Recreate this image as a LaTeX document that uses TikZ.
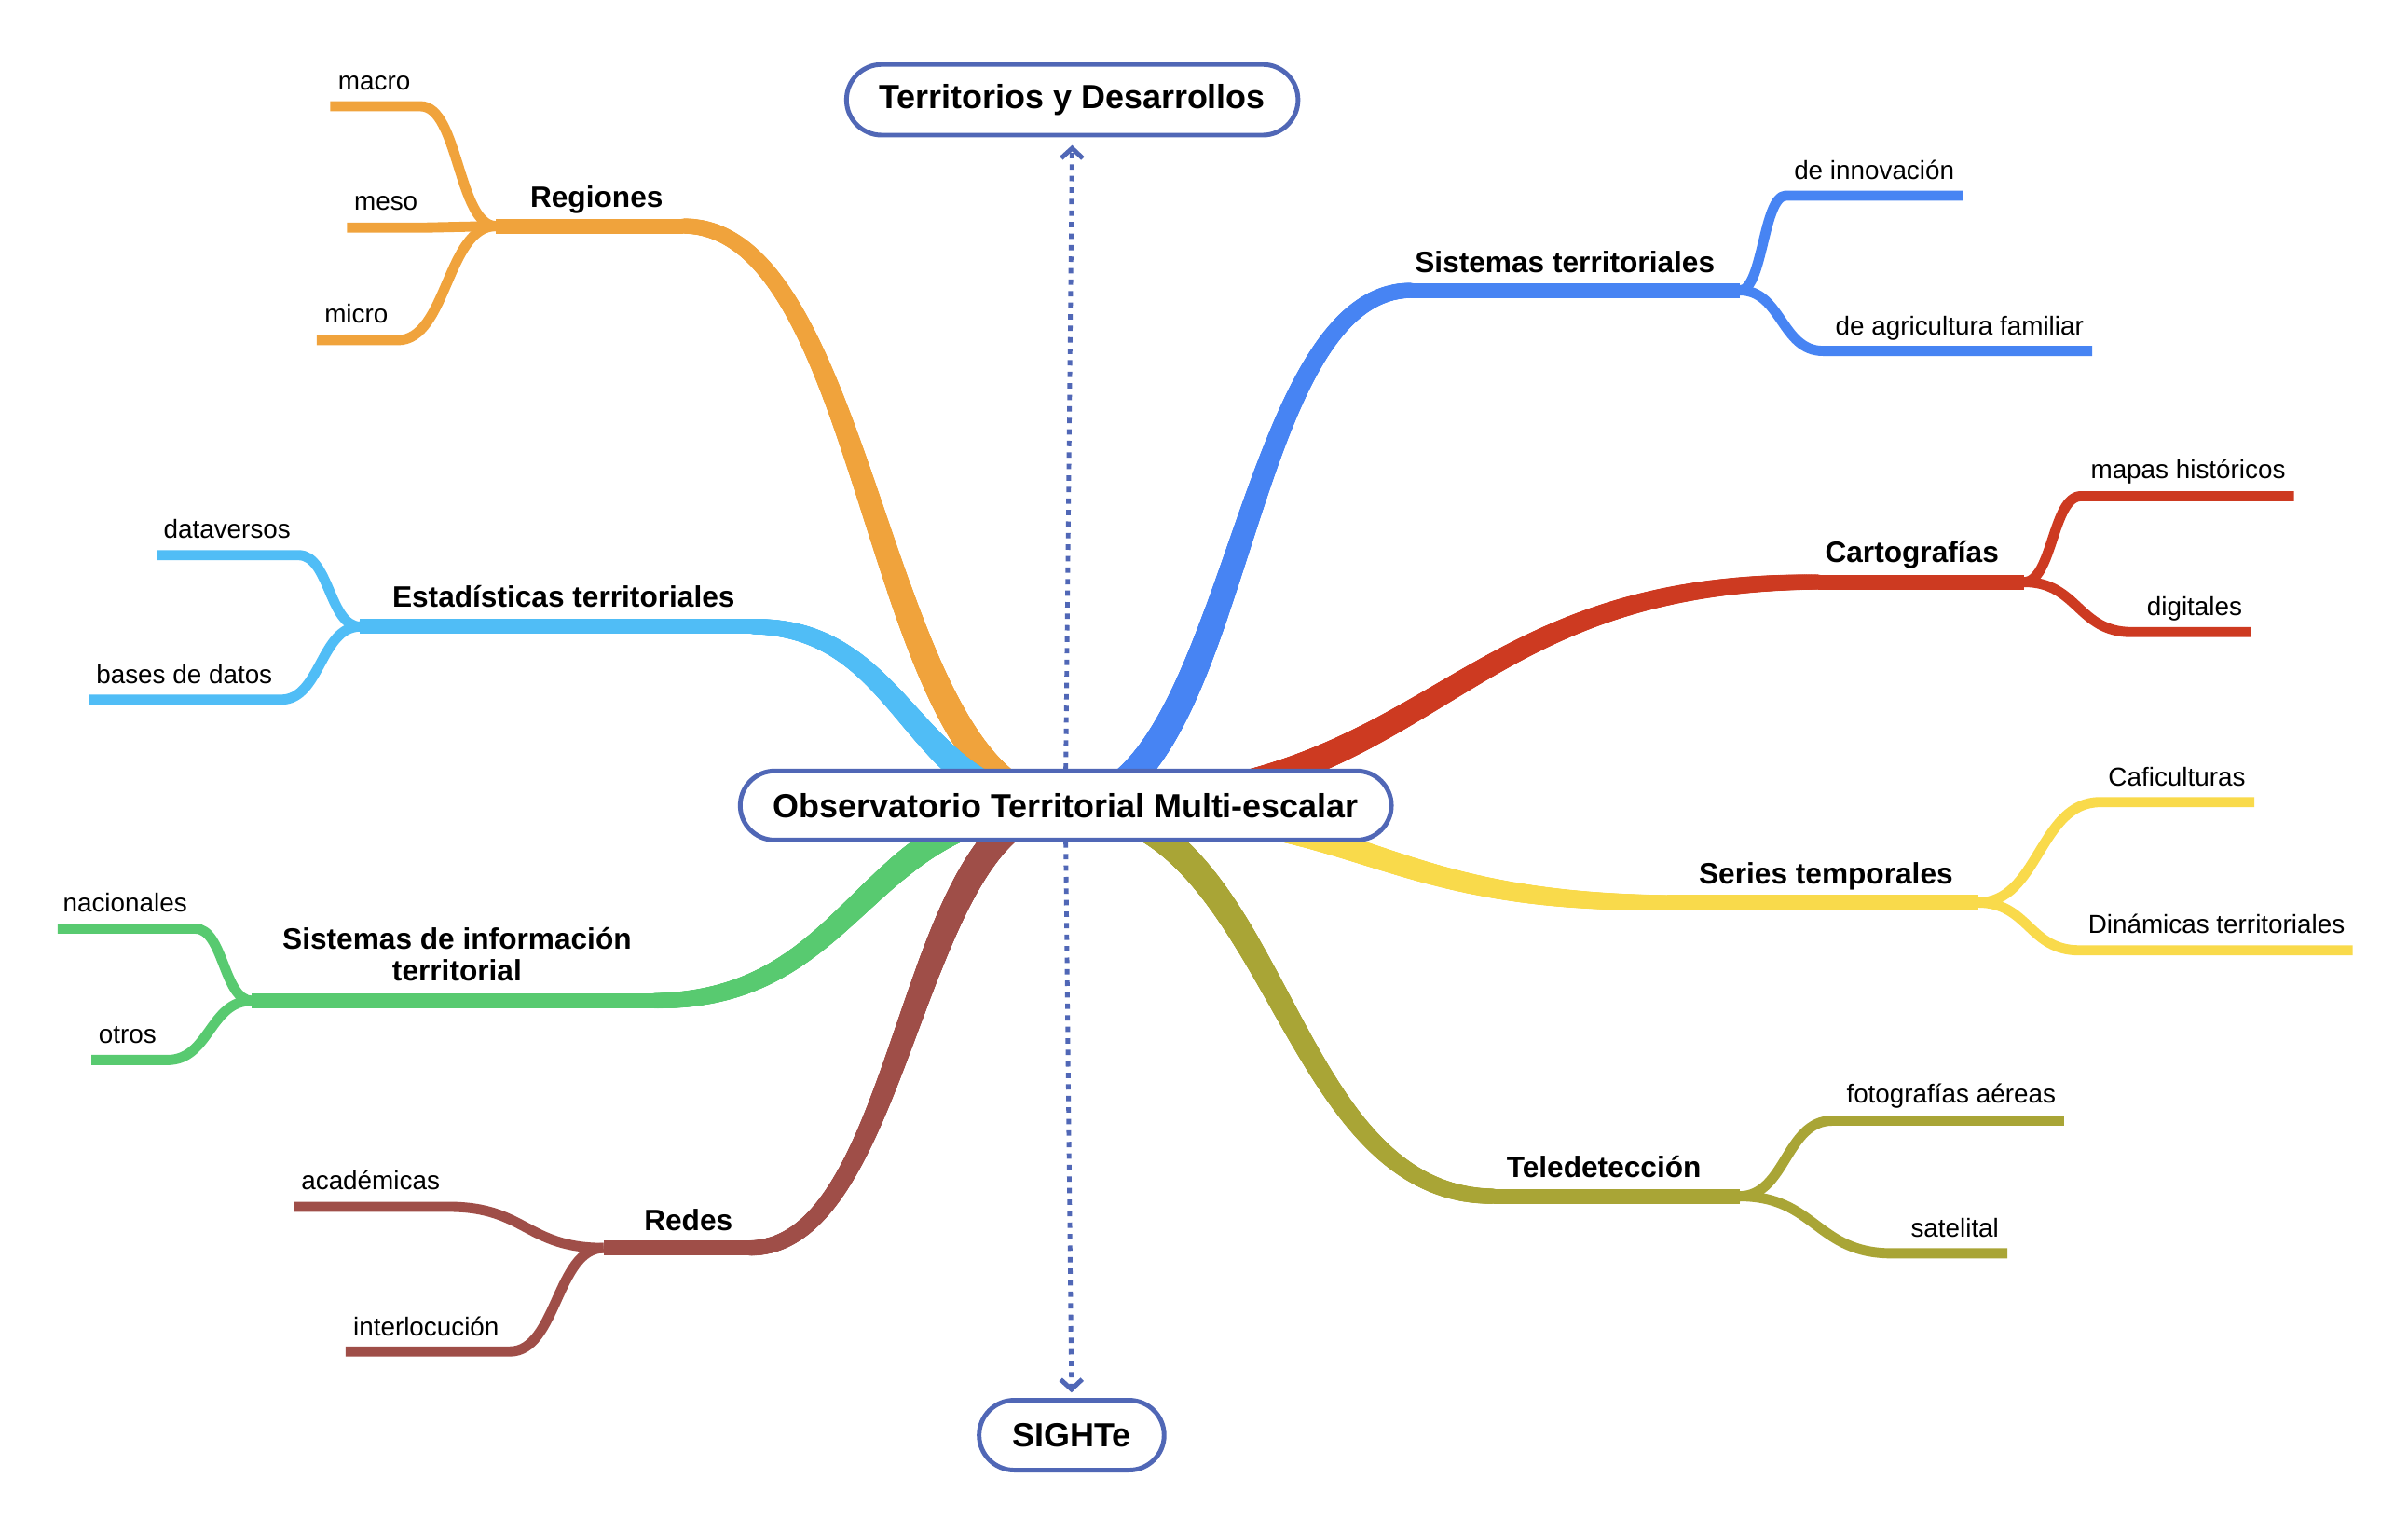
\documentclass[tikz,border=0pt]{standalone}
\usepackage{fontspec}
\setmainfont{Liberation Sans}
\usetikzlibrary{calc,decorations.markings,arrows.meta,shapes.misc,backgrounds}
\definecolor{cOrange}{HTML}{F0A33C}
\definecolor{cLBlue}{HTML}{50BDF6}
\definecolor{cGreen}{HTML}{58CA70}
\definecolor{cBrown}{HTML}{9F4E48}
\definecolor{cBlue}{HTML}{4784F3}
\definecolor{cRed}{HTML}{CD3A21}
\definecolor{cYellow}{HTML}{F9DA4B}
\definecolor{cOlive}{HTML}{A9A536}
\definecolor{cNode}{HTML}{5067B6}
\tikzset{
  hc/.style={to path={.. controls ($(\tikztostart)!0.5!(\tikztostart-|\tikztotarget)$) and ($(\tikztotarget)!0.5!(\tikztotarget-|\tikztostart)$) .. (\tikztotarget)}},
  pill/.style={rounded rectangle, draw=cNode, line width=3pt, fill=white, inner sep=0pt, font=\fontsize{21.8}{26}\selectfont\bfseries},
  mainlbl/.style={anchor=base, inner sep=0pt, font=\fontsize{19.2}{20.8}\selectfont\bfseries},
  sublbl/.style={anchor=base, inner sep=0pt, font=\fontsize{16.9}{20}\selectfont},
  trunk/.style={line width=9.8pt, line cap=butt},
  twig/.style={line width=6.6pt, line cap=butt, line join=round},
  dotarrow/.style={draw=cNode, line width=3pt, dash pattern=on 3.5pt off 4pt, -{Straight Barb[length=6.5pt,width=14pt]}},
  taper/.style n args={3}{decoration={markings, mark=between positions 0 and 1 step 0.002 with {
      \pgfmathsetmacro\tprad{0.5*(#2+(#3-#2)*\pgfkeysvalueof{/pgf/decoration/mark info/distance from start}/\pgfdecoratedpathlength)}
      \fill[#1] (0,0) circle[radius=\tprad pt];}}, decorate}
}
\begin{document}
\begin{tikzpicture}[x=1pt,y=-1pt]
\useasboundingbox (0,0) rectangle (1568,998);

% central and side nodes
\node[pill, minimum width=424pt, minimum height=45pt] (C) at (694,524.5) {Observatorio Territorial Multi-escalar};
\node[pill, minimum width=294pt, minimum height=46pt] (T) at (698.2,65) {Territorios y Desarrollos};
\node[pill, minimum width=120.5pt, minimum height=45.5pt] (B) at (697.8,934.5) {SIGHTe};

% branch coordinates
\coordinate (E1) at (445,147.2);   \coordinate (S1) at (323,147.2);
\coordinate (E2) at (490,408);     \coordinate (S2) at (234.5,408);
\coordinate (E3) at (426,651.6);   \coordinate (S3) at (164,651.6);
\coordinate (E4) at (488,812.6);   \coordinate (S4) at (393,812.6);
\coordinate (E5) at (919,189.1);   \coordinate (S5) at (1133,189.1);
\coordinate (E6) at (1183.6,379);  \coordinate (S6) at (1318,379);
\coordinate (E7) at (1085.6,587.7);\coordinate (S7) at (1288,587.7);
\coordinate (E8) at (972.7,778.9); \coordinate (S8) at (1132.6,778.9);

\coordinate (c1a) at (274,69.2);   \coordinate (c1ao) at (215,69.2);
\coordinate (c1b) at (277,148.2);  \coordinate (c1bo) at (226,148.2);
\coordinate (c1c) at (259,221.5);  \coordinate (c1co) at (206.3,221.5);
\coordinate (c2a) at (194.5,361.5);\coordinate (c2ao) at (102,361.5);
\coordinate (c2b) at (183,455.6);  \coordinate (c2bo) at (58,455.6);
\coordinate (c3a) at (127.3,604.7);\coordinate (c3ao) at (37.5,604.7);
\coordinate (c3b) at (109,690.2);  \coordinate (c3bo) at (59.6,690.2);
\coordinate (c4a) at (292,785.8);  \coordinate (c4ao) at (191.3,785.8);
\coordinate (c4b) at (332,880);    \coordinate (c4bo) at (225.1,880);
\coordinate (c5a) at (1163,127.4); \coordinate (c5ao) at (1278,127.4);
\coordinate (c5b) at (1187,228.5); \coordinate (c5bo) at (1362.3,228.5);
\coordinate (c6a) at (1355,323.1); \coordinate (c6ao) at (1493.7,323.1);
\coordinate (c6b) at (1388,411.6); \coordinate (c6bo) at (1465.4,411.6);
\coordinate (c7a) at (1367.4,522.3);\coordinate (c7ao) at (1467.9,522.3);
\coordinate (c7b) at (1354,618.8); \coordinate (c7bo) at (1531.9,618.8);
\coordinate (c8a) at (1193,729.7); \coordinate (c8ao) at (1344,729.7);
\coordinate (c8b) at (1232,816.1); \coordinate (c8bo) at (1307.2,816.1);

% labels
\node[mainlbl] (L1) at (388.5,135.1) {Regiones};
\node[mainlbl] (L2) at (367,395.4) {Estadísticas territoriales};
\node[mainlbl, align=center] (L3) at (297.6,638.8) {Sistemas de información\\territorial};
\node[mainlbl] (L4) at (448.3,801) {Redes};
\node[mainlbl] (L5) at (1019,177.2) {Sistemas territoriales};
\node[mainlbl] (L6) at (1245,366.5) {Cartografías};
\node[mainlbl] (L7) at (1189,575.4) {Series temporales};
\node[mainlbl] (L8) at (1044.4,766.6) {Teledetección};

\node[sublbl] (l1a) at (243.7,58.7) {macro};
\node[sublbl] (l1b) at (251.3,137) {meso};
\node[sublbl] (l1c) at (232,210.4) {micro};
\node[sublbl] (l2a) at (147.9,350.3) {dataversos};
\node[sublbl] (l2b) at (120,445) {bases de datos};
\node[sublbl] (l3a) at (81.4,593.7) {nacionales};
\node[sublbl] (l3b) at (83,679.6) {otros};
\node[sublbl] (l4a) at (241.3,774.7) {académicas};
\node[sublbl] (l4b) at (277.5,869.7) {interlocución};
\node[sublbl] (l5a) at (1220.4,116.9) {de innovación};
\node[sublbl] (l5b) at (1276,218) {de agricultura familiar};
\node[sublbl] (l6a) at (1424.8,311.5) {mapas históricos};
\node[sublbl] (l6b) at (1429,400.5) {digitales};
\node[sublbl] (l7a) at (1417.5,511.7) {Caficulturas};
\node[sublbl] (l7b) at (1443.3,607.8) {Dinámicas territoriales};
\node[sublbl] (l8a) at (1270.5,718) {fotografías aéreas};
\node[sublbl] (l8b) at (1272.9,805.4) {satelital};

\begin{scope}[on background layer]
\fill[white] (0,0) rectangle (1568,998);
% main tapered branches
\foreach \i/\c in {1/cOrange,2/cLBlue,3/cGreen,4/cBrown,5/cBlue,6/cRed,7/cYellow,8/cOlive}{
  \path[taper={\c}{20}{9.8}] (C.center) to[hc] (E\i);
  \draw[trunk, draw=\c] (E\i) -- (S\i);
  \draw[twig, draw=\c] (S\i) to[hc] (c\i a) -- (c\i ao);
  \draw[twig, draw=\c] (S\i) to[hc] (c\i b) -- (c\i bo);
}
\draw[twig, draw=cOrange] (S1) to[hc] (c1c) -- (c1co);
\end{scope}

% dotted arrows
\draw[dotarrow, shorten >=5pt] (C.north) -- (T.south);
\draw[dotarrow, shorten >=3.5pt] (C.south) -- (B.north);
\end{tikzpicture}
\end{document}
